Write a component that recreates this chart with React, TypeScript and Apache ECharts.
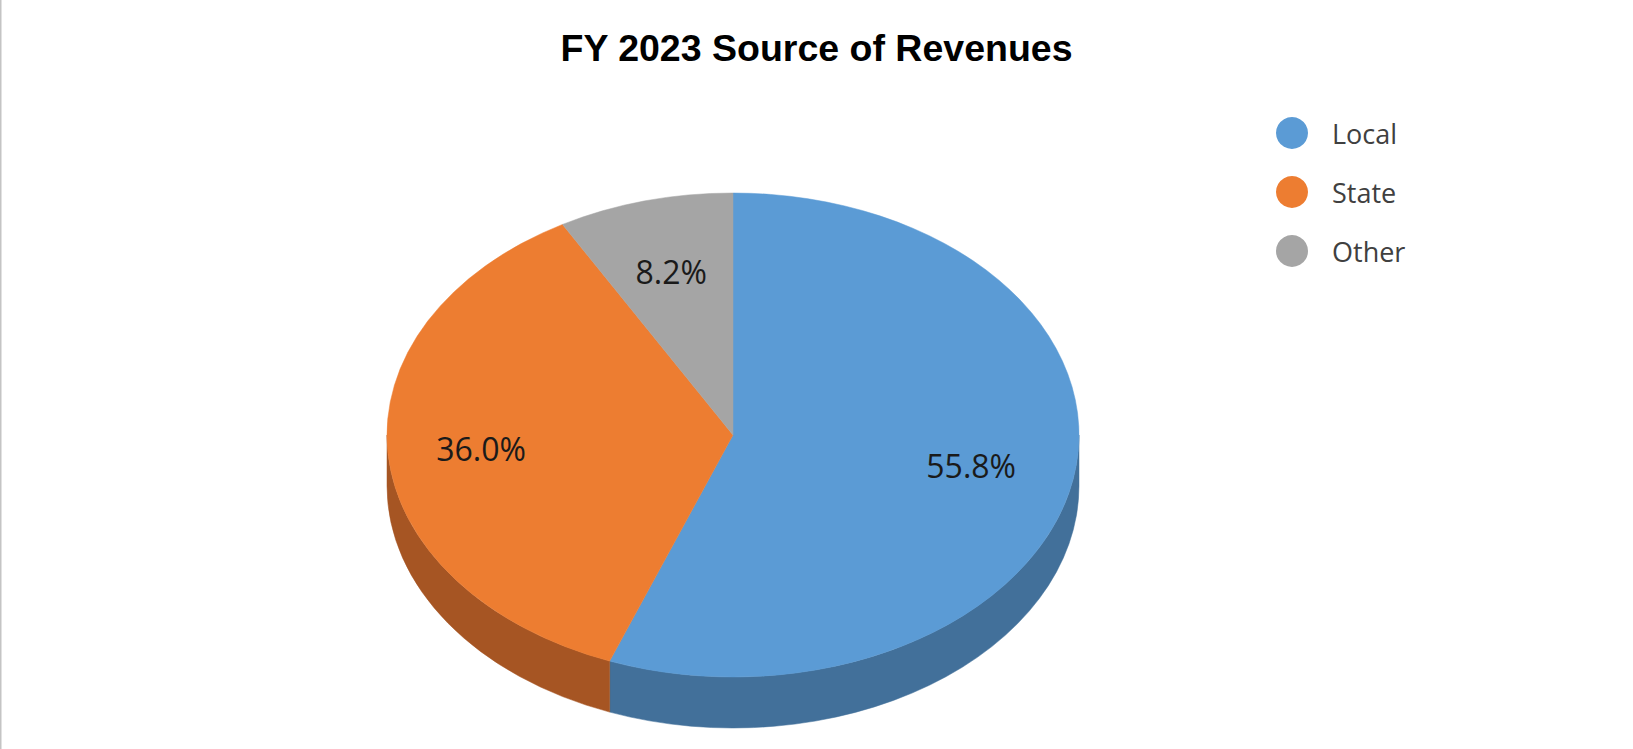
import React, { useEffect, useRef } from "react";
import * as echarts from "echarts";

const titleText = "FY 2023 Source of Revenues";
const categories = ["Local", "State", "Other"];
const values = [55.8, 36.0, 8.2];
const topColors = ["#5B9BD5", "#ED7D31", "#A5A5A5"];
const sideColors = ["#42709A", "#A65523", "#7C7C7C"];
const labelRadius = [0.7, 0.73, 0.7];

export default function App() {
  const ref = useRef<HTMLDivElement>(null);
  useEffect(() => {
    if (!ref.current) return;
    const chart = echarts.init(ref.current, null, { renderer: "svg" });
    const total = values.reduce((a, b) => a + b, 0);
    const starts: number[] = [];
    let acc = 0;
    values.forEach((v) => {
      starts.push(acc / total);
      acc += v;
    });

    const CX = 733;
    const CY = 435;
    const RX = 346;
    const RY = 242;
    const DEPTH = 51;

    const pt = (f: number, dy = 0) => {
      const t = f * Math.PI * 2;
      return [CX + RX * Math.sin(t), CY - RY * Math.cos(t) + dy];
    };
    const fmt = (p: number[]) => `${p[0].toFixed(2)} ${p[1].toFixed(2)}`;

    const renderItem = (params: any, api: any) => {
      const s = api.value(0) as number;
      const e = api.value(1) as number;
      const v = api.value(2) as number;
      const idx = params.seriesIndex;
      const children: any[] = [];
      const a = Math.max(s, 0.25);
      const b = Math.min(e, 0.75);
      if (b > a) {
        const p1 = pt(a);
        const p2 = pt(b);
        const p3 = pt(b, DEPTH);
        const p4 = pt(a, DEPTH);
        const d = `M ${fmt(p1)} A ${RX} ${RY} 0 0 1 ${fmt(p2)} L ${fmt(p3)} A ${RX} ${RY} 0 0 0 ${fmt(p4)} Z`;
        children.push({
          type: "path",
          shape: { pathData: d },
          style: { fill: sideColors[idx], stroke: sideColors[idx], lineWidth: 0.5 },
        });
      }
      const q1 = pt(s);
      const q2 = pt(e);
      const large = e - s > 0.5 ? 1 : 0;
      const dTop = `M ${CX} ${CY} L ${fmt(q1)} A ${RX} ${RY} 0 ${large} 1 ${fmt(q2)} Z`;
      children.push({
        type: "path",
        shape: { pathData: dTop },
        style: { fill: topColors[idx], stroke: topColors[idx], lineWidth: 0.5 },
      });
      const mid = (s + e) / 2;
      const tm = mid * Math.PI * 2;
      const lf = labelRadius[idx];
      children.push({
        type: "text",
        style: {
          text: v.toFixed(1) + "%",
          x: CX + RX * lf * Math.sin(tm),
          y: CY - RY * lf * Math.cos(tm),
          align: "center",
          verticalAlign: "middle",
          fill: "#1a1a1a",
          fontSize: 32,
          fontFamily: "Open Sans",
        },
      });
      return { type: "group", children };
    };

    const series = categories.map((name, i) => ({
      type: "custom",
      name,
      coordinateSystem: "none",
      renderItem,
      itemStyle: { color: topColors[i] },
      data: [[starts[i], starts[i] + values[i] / total, values[i]]],
    }));

    chart.setOption({
      animation: false,
      backgroundColor: "#ffffff",
      title: {
        text: titleText,
        left: "center",
        top: 24,
        textStyle: {
          fontFamily: "Liberation Sans",
          fontWeight: "bold",
          fontSize: 37.5,
          color: "#000000",
        },
      },
      legend: {
        orient: "vertical",
        left: 1271,
        top: 112,
        itemWidth: 32,
        itemHeight: 32,
        itemGap: 27,
        icon: "circle",
        data: categories,
        textStyle: {
          fontFamily: "Open Sans",
          fontSize: 27,
          color: "#404040",
          padding: [0, 0, 0, 19],
        },
      },
      graphic: [
        {
          type: "rect",
          shape: { x: 0, y: 0, width: 1.5, height: 749 },
          style: { fill: "#c4c4c4" },
        },
      ],
      series,
    });
    return () => chart.dispose();
  }, []);
  return (
    <div
      ref={ref}
      style={{ position: "fixed", left: 0, top: 0, width: "1633px", height: "749px" }}
    />
  );
}
